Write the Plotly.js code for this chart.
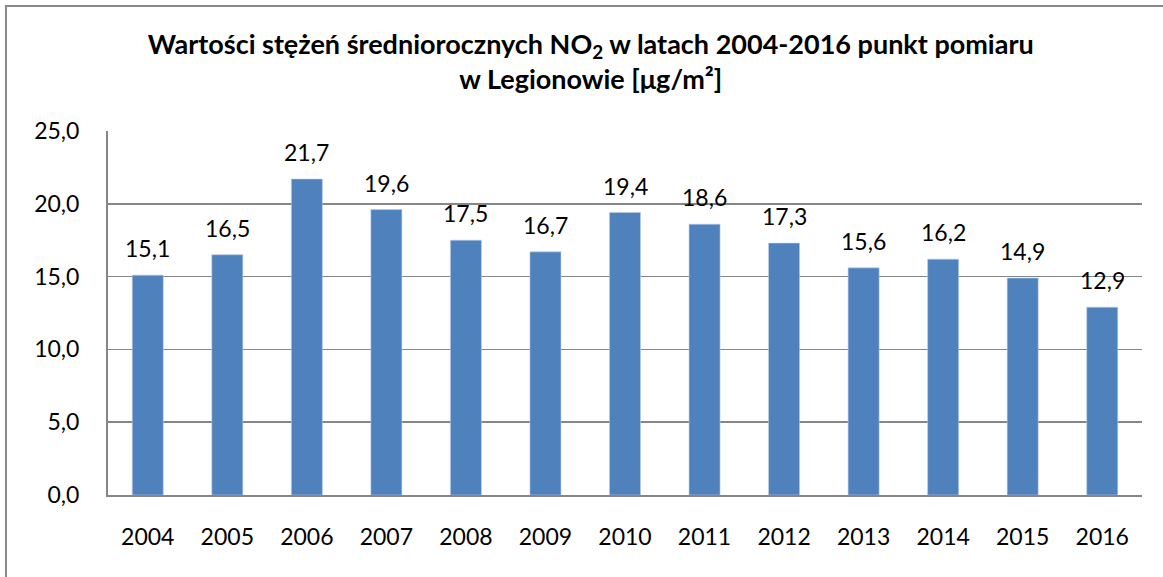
<!DOCTYPE html>
<html>
<head>
<meta charset="utf-8">
<script src="https://cdn.plot.ly/plotly-3.0.1.min.js"></script>
<style>
  html, body { margin: 0; padding: 0; background: #fff; }
  #wrap { position: absolute; left: 5px; top: 5px; width: 1158px; height: 572px;
          border-left: 2px solid #898989; border-top: 2px solid #898989; }
  #chart { width: 1156px; height: 570px; }
</style>
</head>
<body>
<div id="wrap"><div id="chart"></div></div>
<script>
const years = ['2004','2005','2006','2007','2008','2009','2010','2011','2012','2013','2014','2015','2016'];
const values = [15.1, 16.5, 21.7, 19.6, 17.5, 16.7, 19.4, 18.6, 17.3, 15.6, 16.2, 14.9, 12.9];
const titleText = '<b>Wartości stężeń średniorocznych NO<sub>2</sub> w latach 2004-2016 punkt pomiaru<br>w Legionowie [μg/m²]</b>';

const FONT = 'Lato, "Open Sans", sans-serif';

const trace = {
  type: 'bar',
  x: years,
  y: values,
  marker: { color: '#4F81BD', line: { color: '#B9CDE5', width: 0.6 } },
  hoverinfo: 'skip'
};

const annotations = years.map((yr, i) => ({
  x: i, y: values[i], xref: 'x', yref: 'y',
  text: values[i].toFixed(1).replace('.', ','),
  showarrow: false, yanchor: 'bottom', yshift: 11,
  font: { family: FONT, size: 23, color: '#000' }
}));

const layout = {
  width: 1156, height: 570,
  margin: { l: 101, r: 21, t: 124, b: 82 },
  paper_bgcolor: '#fff', plot_bgcolor: '#fff',
  separators: ', ',
  showlegend: false,
  bargap: 0.61,
  title: {
    text: titleText,
    x: 0.505, xref: 'container', xanchor: 'center',
    y: 0.918, yref: 'container', yanchor: 'top',
    font: { family: FONT, size: 27, color: '#000' }
  },
  xaxis: {
    type: 'category',
    range: [-0.5, years.length - 0.5],
    showline: true, linecolor: '#868686', linewidth: 2,
    showgrid: false, ticks: '', ticklabelstandoff: 20,
    tickfont: { family: FONT, size: 23, color: '#000' }
  },
  yaxis: {
    range: [0, 25], dtick: 5, tick0: 0,
    tickformat: '.1f',
    showline: true, linecolor: '#868686', linewidth: 2,
    showgrid: true, gridcolor: '#868686', gridwidth: 1.5,
    zeroline: false, ticks: '', ticklabelstandoff: 22,
    tickfont: { family: FONT, size: 23, color: '#000' }
  },
  annotations: annotations
};

Plotly.newPlot('chart', [trace], layout, { displayModeBar: false, staticPlot: true });
</script>
</body>
</html>
